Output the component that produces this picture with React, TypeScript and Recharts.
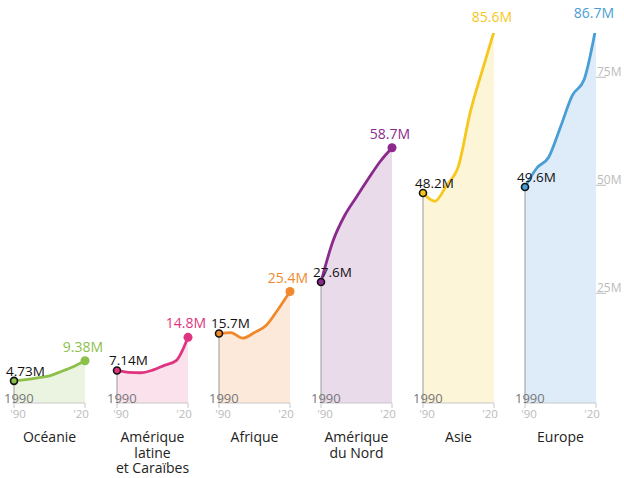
import {
  AreaChart,
  Area,
  XAxis,
  YAxis,
  ReferenceLine,
  ReferenceDot,
  LabelList,
} from 'recharts'

// Stock de migrants internationaux par région d'accueil (millions)
const years = [1990, 1995, 2000, 2005, 2010, 2015, 2020]

const regionNames = [
  ['Océanie'],
  ['Amérique', 'latine', 'et Caraïbes'],
  ['Afrique'],
  ['Amérique', 'du Nord'],
  ['Asie'],
  ['Europe'],
]

const oceania = [4.73, 5.0, 5.4, 5.9, 6.9, 8.0, 9.38]
const latinAmerica = [7.14, 6.7, 6.6, 7.2, 8.3, 9.4, 14.8]
const africa = [15.7, 15.9, 14.6, 15.9, 17.6, 21.3, 25.4]
const northAmerica = [27.6, 37.0, 43.0, 47.3, 51.5, 55.5, 58.7]
const asia = [48.2, 46.3, 50.0, 54.5, 67.0, 76.5, 85.6]
const europe = [49.6, 54.0, 56.5, 63.5, 70.8, 74.5, 86.7]

const series = [oceania, latinAmerica, africa, northAmerica, asia, europe]

const valueTicks = [25, 50, 75]

const lineColors = ['#8cc04a', '#df3580', '#f0892d', '#8b2a8c', '#f6c71c', '#4a9ed6']
const fillColors = ['#ebf4e1', '#fae1ec', '#fde9da', '#e9dbea', '#fdf5d8', '#deecfa']

// shared vertical scale, top is cut so the two largest series run off the panel
const Y_DOMAIN = [-0.4, 85.25]
const TICK_SIZE = 5
const TICK_MARGIN = 2

const panelLeft = [14, 117, 219, 321, 423, 525]
const PANEL_W = 112
const PLOT_W = 71
const PAD_LEFT = 10

const fmt = (v: number) => `${v}M`

function YearTick(props: any) {
  const { x, y, payload } = props
  const first = payload.value === years[0]
  const axisY = y - TICK_SIZE - TICK_MARGIN
  return (
    <g>
      <text
        x={x + (first ? 4 : -4)}
        y={y + 8}
        textAnchor="middle"
        fill="#bbb"
        fontSize={11.5}
      >
        {"'" + String(payload.value).slice(2)}
      </text>
      {first && (
        <text x={x - 10} y={axisY} fill="#777" fontSize={13}>
          {payload.value}
        </text>
      )}
    </g>
  )
}

function ValueTick(props: any) {
  const { x, y, payload } = props
  return (
    <g>
      <line x1={x} x2={x + 10} y1={y} y2={y} stroke="#bbb" strokeWidth={1} />
      <text x={x + 1} y={y - 1.5} fill="#bbb" fontSize={12}>
        {fmt(payload.value)}
      </text>
    </g>
  )
}

const endLabels = (color: string, count: number) => (props: any) => {
  const vb = props.viewBox || {}
  const x = props.x ?? vb.x
  const y = props.y ?? vb.y
  if (props.index === 0) {
    return (
      <text x={x - 8} y={y - 5} fill="#111" fontSize={13.5}>
        {fmt(props.value)}
      </text>
    )
  }
  if (props.index === count - 1) {
    return (
      <text x={x - 2} y={y - 9} fill={color} fontSize={14} textAnchor="middle">
        {fmt(props.value)}
      </text>
    )
  }
  return null
}

function Panel({ i }: { i: number }) {
  const values = series[i]
  const data = years.map((year, k) => ({ year, value: values[k] }))
  const color = lineColors[i]
  const last = i === series.length - 1
  const axisW = PANEL_W - PAD_LEFT - PLOT_W

  return (
    <div style={{ position: 'absolute', left: panelLeft[i] - PAD_LEFT, top: 0 }}>
      <AreaChart
        width={PANEL_W}
        height={478}
        data={data}
        margin={{ top: 33, right: last ? 0 : axisW, bottom: 45, left: PAD_LEFT }}
      >
        <XAxis
          dataKey="year"
          type="number"
          domain={[years[0], years[years.length - 1]]}
          ticks={[years[0], years[years.length - 1]]}
          interval={0}
          height={30}
          stroke="#c8c8c8"
          tickSize={TICK_SIZE}
          tickMargin={TICK_MARGIN}
          tick={<YearTick />}
        />
        <YAxis
          orientation="right"
          hide={!last}
          domain={Y_DOMAIN}
          allowDataOverflow
          ticks={valueTicks}
          width={axisW}
          axisLine={false}
          tickLine={false}
          tickSize={0}
          tickMargin={0}
          tick={<ValueTick />}
        />
        <Area
          type="monotone"
          dataKey="value"
          stroke={color}
          strokeWidth={2.8}
          fill={fillColors[i]}
          fillOpacity={1}
          baseValue={Y_DOMAIN[0]}
          dot={false}
          activeDot={false}
          isAnimationActive={false}
        >
          <LabelList dataKey="value" content={endLabels(color, values.length)} />
        </Area>
        <ReferenceLine
          segment={[
            { x: years[0], y: Y_DOMAIN[0] },
            { x: years[0], y: values[0] },
          ]}
          stroke="#999"
          strokeWidth={1}
        />
        <ReferenceDot
          x={years[years.length - 1]}
          y={values[values.length - 1]}
          r={4.5}
          fill={color}
          stroke="none"
          ifOverflow="discard"
        />
        <ReferenceDot
          x={years[0]}
          y={values[0]}
          r={3.5}
          fill={color}
          stroke="#111"
          strokeWidth={1.6}
          ifOverflow="discard"
        />
      </AreaChart>
    </div>
  )
}

export default function App() {
  return (
    <div
      style={{
        position: 'absolute',
        left: 0,
        top: 0,
        width: 624,
        height: 478,
        background: '#fff',
        fontFamily: '"Open Sans", sans-serif',
      }}
    >
      {series.map((_, i) => (
        <Panel key={i} i={i} />
      ))}
      {regionNames.map((lines, i) => (
        <div
          key={i}
          style={{
            position: 'absolute',
            left: panelLeft[i] + PLOT_W / 2 - 60,
            top: 429,
            width: 120,
            textAlign: 'center',
            fontSize: 14,
            lineHeight: '15.5px',
            color: '#222',
          }}
        >
          {lines.map((l) => (
            <div key={l}>{l}</div>
          ))}
        </div>
      ))}
    </div>
  )
}
